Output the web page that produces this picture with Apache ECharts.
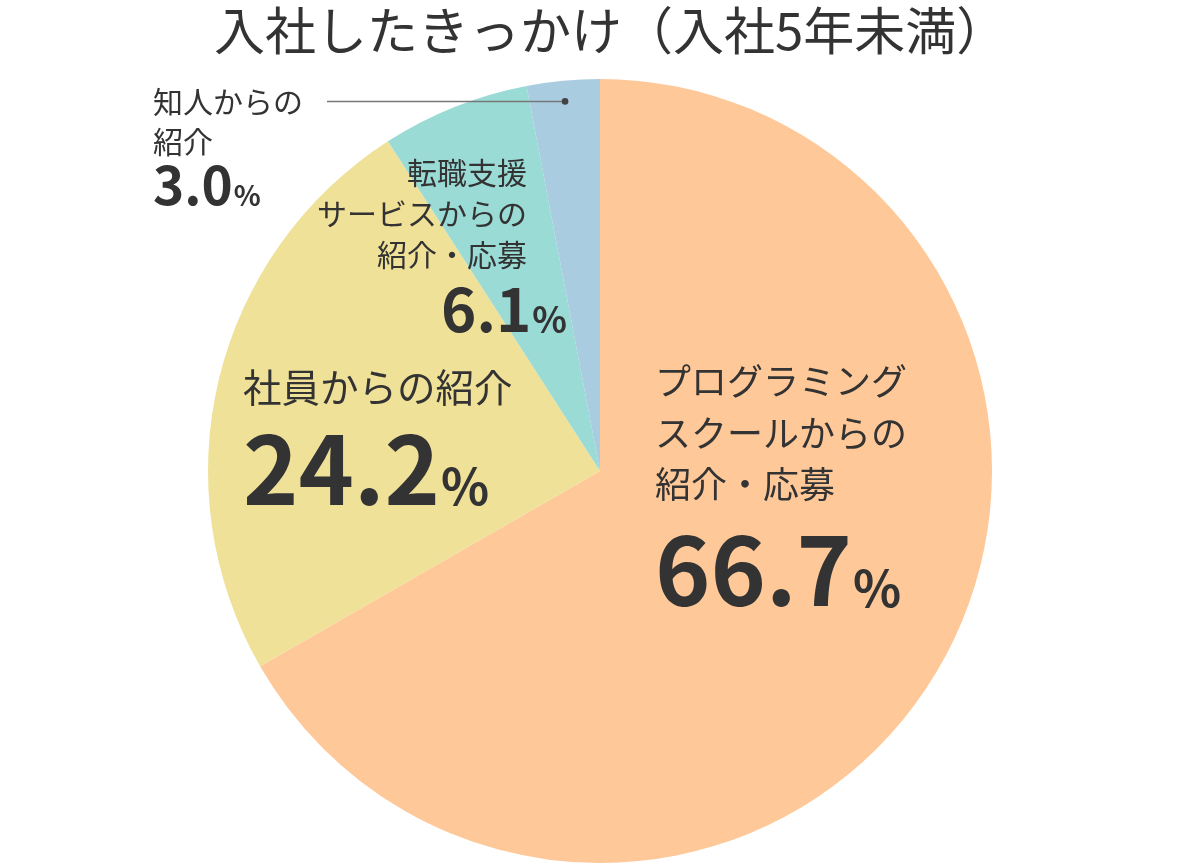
<!DOCTYPE html>
<html lang="ja">
<head>
<meta charset="utf-8">
<title>入社したきっかけ</title>
<script src="https://cdn.jsdelivr.net/npm/echarts@6/dist/echarts.min.js"></script>
<style>
  html, body { margin: 0; padding: 0; background: #fff; }
  .pie { width: 1200px; height: 864px; }
</style>
</head>
<body>
<div class="pie"></div>
<script>
// データ
var categories = [
  'プログラミング\nスクールからの\n紹介・応募',
  '社員からの紹介',
  '転職支援\nサービスからの\n紹介・応募',
  '知人からの\n紹介'
];
var values = [66.7, 24.2, 6.1, 3.0];
var colors = ['#fec898', '#f0e198', '#9adbd6', '#aacce0'];

;(function() {
  var myChart = echarts.init(document.querySelector('.pie'));

  // 円の中心と半径
  var CX = 600, CY = 471, R = 392;
  var FONT = 'Noto Sans CJK JP';

  // ラベルの位置（左上 or 右上）
  var labelPos = [
    { x: 655, y: 356, align: 'left' },
    { x: 243, y: 362, align: 'left' },
    { x: 567, y: 152, align: 'right' },
    { x: 153, y: 82, align: 'left' }
  ];

  // スライス中央方向の点（半径の ratio 倍）
  function slicePoint(index, ratio) {
    var total = 0, before = 0;
    values.forEach(function(v, i) {
      total += v;
      if (i < index) before += v;
    });
    var a = (before + values[index] / 2) / total * Math.PI * 2;
    return [CX + Math.sin(a) * R * ratio, CY - Math.cos(a) * R * ratio];
  }
  var dot = slicePoint(3, 0.947);

  var data = values.map(function(v, i) {
    return { value: v, name: categories[i], itemStyle: { color: colors[i] } };
  });

  // rich スタイル：t=見出し、n=数値、p=%
  function rich(t, tl, n, nl, p, pad, extra) {
    var o = {};
    o.t = { fontSize: t, lineHeight: tl, color: '#333', fontFamily: FONT };
    if (extra) o.t.padding = extra;
    o.n = { fontSize: n, lineHeight: nl, fontWeight: 'bold', color: '#333', fontFamily: FONT };
    o.p = { fontSize: p, lineHeight: nl, fontWeight: 'bold', padding: [pad, 0, 0, 1], color: '#333', fontFamily: FONT };
    return o;
  }
  var styles = [
    rich(36, 51.5, 94, 120, 50, 34),
    rich(38.5, 50, 94, 114, 50, 34),
    rich(30, 41, 60, 69, 36, 20, [0, 40, 0, 0]),
    rich(30, 40, 53, 46, 28, 20)
  ];
  var richAll = {};
  styles.forEach(function(s, i) {
    richAll['t' + i] = s.t;
    richAll['n' + i] = s.n;
    richAll['p' + i] = s.p;
  });

  var option = {
    animation: false,
    title: {
      text: '入社したきっかけ（入社5年未満）',
      left: 209,
      top: 0,
      textStyle: {
        fontFamily: FONT,
        fontSize: 51,
        fontWeight: 'normal',
        color: '#333'
      }
    },
    // 「知人からの紹介」の引き出し線
    graphic: [
      {
        type: 'polyline',
        shape: { points: [[327, dot[1]], dot] },
        style: { stroke: '#777', lineWidth: 1.5, fill: null },
        z: 100
      },
      {
        type: 'circle',
        shape: { cx: dot[0], cy: dot[1], r: 3.3 },
        style: { fill: '#444' },
        z: 101
      }
    ],
    series: [
      {
        type: 'pie',
        center: [CX, CY],
        radius: R,
        startAngle: 90,
        clockwise: true,
        silent: true,
        avoidLabelOverlap: false,
        label: {
          show: true,
          position: 'inside',
          color: '#333',
          fontFamily: FONT,
          formatter: function(p) {
            var i = p.dataIndex;
            var lines = p.name.split('\n').map(function(s) {
              return '{t' + i + '|' + s + '}';
            });
            return lines.join('\n') + '\n{n' + i + '|' + p.value.toFixed(1) + '}{p' + i + '|%}';
          },
          rich: richAll
        },
        labelLine: { show: false },
        // ラベルの位置を固定
        labelLayout: function(p) {
          var pos = labelPos[p.dataIndex];
          return { x: pos.x, y: pos.y, align: pos.align, verticalAlign: 'top' };
        },
        data: data
      }
    ]
  };

  myChart.setOption(option);
  window.addEventListener('resize', function() {
    myChart.resize();
  });
})();
</script>
</body>
</html>
